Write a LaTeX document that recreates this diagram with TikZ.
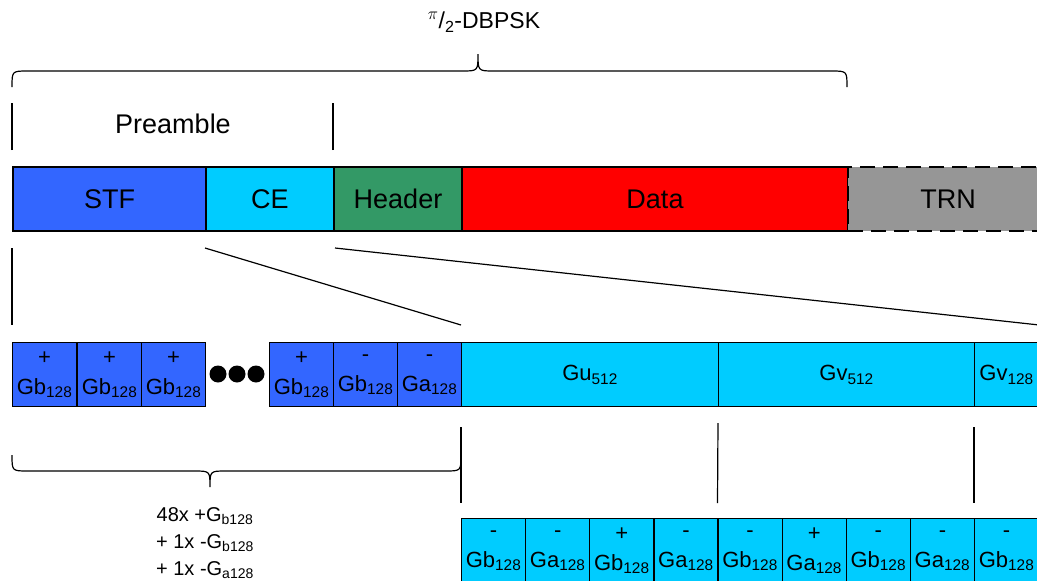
\documentclass[tikz,border=0pt]{standalone}
\usepackage{fontspec}
\setmainfont{Liberation Sans}
\usepackage{xcolor}
\usepackage{tikz}
\definecolor{stf_blue}{HTML}{3366FF}
\definecolor{ce_cyan}{HTML}{00CCFF}
\definecolor{hdr_green}{HTML}{339966}
\definecolor{trn_gray}{HTML}{969696}
\tikzset{ frame_field/.style = {rectangle, draw, line width=2pt, minimum height=64pt, inner sep=0pt, anchor=north west, font=\fontsize{27}{32}\selectfont} }
\tikzset{ sub_cell/.style = {rectangle, draw, line width=1.2pt, minimum height=64pt, minimum width=64pt, inner sep=0pt, anchor=north west, align=center, font=\fontsize{22}{30}\selectfont} }
\tikzset{ guide/.style = {line width=1.2pt} }

\begin{document}
\begin{tikzpicture}[x=1pt,y=-1pt]
        \useasboundingbox (0,0) rectangle (1037,581);
        \clip (0,0) rectangle (1037,581);
        % packet fields
        \node[frame_field, fill=stf_blue, minimum width=193pt] (stf) at (12,166) {STF};
        \node[frame_field, fill=ce_cyan, minimum width=128pt] (ce) at (205,166) {CE};
        \node[frame_field, fill=hdr_green, minimum width=128pt] (hdr) at (333,166) {Header};
        \node[frame_field, fill=red, minimum width=386pt] (data) at (461,166) {Data};
        \node[frame_field, fill=trn_gray, dashed, dash pattern=on 15pt off 8pt, minimum width=200pt] (trn) at (847,166) {TRN};
        % modulation brace
        \node[font=\fontsize{23}{27}\selectfont] (mod) at (484,22) {\textsuperscript{$\pi$}/\textsubscript{2}-DBPSK};
        \draw[guide] (12,87) .. controls (12,71) .. (28,71) -- (462,71) .. controls (478,71) .. (478,54)
                .. controls (478,71) .. (494,71) -- (831,71) .. controls (847,71) .. (847,87);
        % preamble marks
        \node[font=\fontsize{27}{32}\selectfont] (pre) at (173,124) {Preamble};
        \draw[guide] ([yshift=16pt]stf.north west) -- ([yshift=63pt]stf.north west);
        \draw[guide] ([yshift=16pt]hdr.north west) -- ([yshift=63pt]hdr.north west);
        % STF sequence
        \node[sub_cell, fill=stf_blue] (b1) at (12,342) {+\\Gb\textsubscript{128}};
        \node[sub_cell, fill=stf_blue] (b2) at (77,342) {+\\Gb\textsubscript{128}};
        \node[sub_cell, fill=stf_blue] (b3) at (141,342) {+\\Gb\textsubscript{128}};
        \foreach \i/\x in {1/218,2/237,3/256}
                \node[circle, fill=black, minimum size=17pt, inner sep=0pt] (dot\i) at (\x,374) {};
        \node[sub_cell, fill=stf_blue] (b4) at (269,342) {+\\Gb\textsubscript{128}};
        \node[sub_cell, fill=stf_blue] (b5) at (333,342) {-\\Gb\textsubscript{128}};
        \node[sub_cell, fill=stf_blue] (b6) at (397,342) {-\\Ga\textsubscript{128}};
        % CE sequence
        \node[sub_cell, fill=ce_cyan, minimum width=257pt] (gu) at (461,342) {Gu\textsubscript{512}};
        \node[sub_cell, fill=ce_cyan, minimum width=256pt] (gv) at (718,342) {Gv\textsubscript{512}};
        \node[sub_cell, fill=ce_cyan] (gw) at (974,342) {Gv\textsubscript{128}};
        % zoom lines
        \draw[guide] ([yshift=-16pt]stf.south west) -- ([yshift=17pt]b1.north west);
        \draw[guide] ([yshift=-16pt]ce.south west) -- ([yshift=17pt]gu.north west);
        \draw[guide] ([yshift=-16pt]ce.south east) -- ([yshift=17pt]gw.north east);
        % STF brace
        \draw[guide] (12,455) .. controls (12,471) .. (28,471) -- (194,471) .. controls (210,471) .. (210,487)
                .. controls (210,471) .. (226,471) -- (445,471) .. controls (461,471) .. (461,455);
        \node[align=center, font=\fontsize{20}{27}\selectfont] (rep) at (205,543)
                {48x +G\textsubscript{b128}\\+ 1x -G\textsubscript{b128}\\+ 1x -G\textsubscript{a128}};
        % Gu/Gv sequence
        \foreach \s/\g [count=\i] in {-/b,-/a,+/b,-/a,-/b,+/a,-/b,-/a,-/b}
                \node[sub_cell, fill=ce_cyan] (r\i) at ({461+64.125*(\i-1)},518) {\s\\G\g\textsubscript{128}};
        \draw[guide] ([yshift=-20pt]gu.south west) -- ([yshift=15pt]r1.north west);
        \draw[guide] ([yshift=-16pt]gv.south west) -- ([yshift=15pt]r5.north west);
        \draw[guide] ([yshift=-20pt]gw.south west) -- ([yshift=15pt]r9.north west);
\end{tikzpicture}
\end{document}
